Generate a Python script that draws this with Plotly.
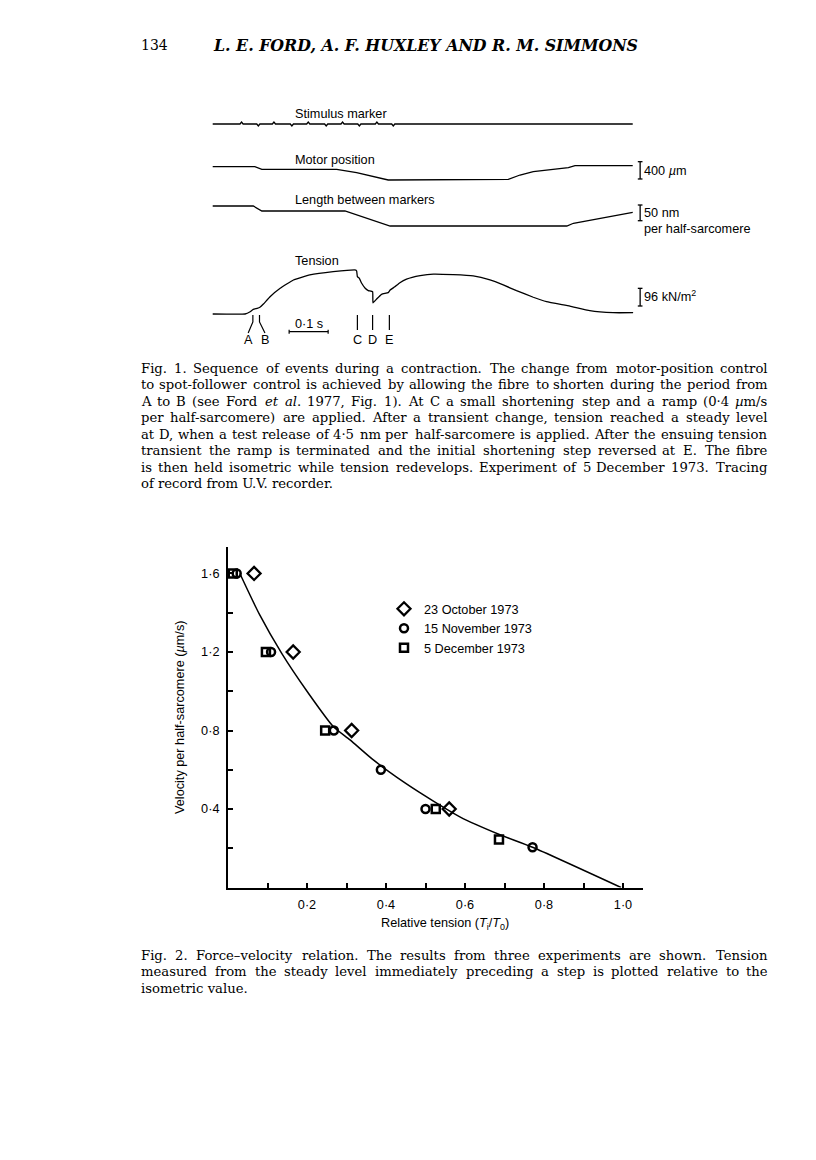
import re
import plotly.graph_objects as go

W, H = 816, 1160

# ---------------- Fig. 2 data (force-velocity) ----------------
oct_x = [0.066, 0.165, 0.313, 0.56]
oct_y = [1.6, 1.2, 0.8, 0.4]
nov_x = [0.022, 0.109, 0.268, 0.387, 0.50, 0.771]
nov_y = [1.6, 1.2, 0.8, 0.6, 0.4, 0.205]
dec_x = [0.012, 0.096, 0.246, 0.526, 0.686]
dec_y = [1.6, 1.2, 0.8, 0.4, 0.245]
fit_x = [0.03, 0.08, 0.136, 0.2, 0.267, 0.309, 0.368, 0.45, 0.52, 0.587, 0.687, 0.771, 0.995]
fit_y = [1.6, 1.39, 1.193, 1.0, 0.819, 0.752, 0.65, 0.53, 0.44, 0.36, 0.27, 0.205, 0.0]
legend_names = ["23 October 1973", "15 November 1973", "5 December 1973"]
xtick_vals = [0.2, 0.4, 0.6, 0.8, 1.0]
xtick_text = ["0·2", "0·4", "0·6", "0·8", "1·0"]
xminor_vals = [0.1, 0.3, 0.5, 0.7, 0.9]
ytick_vals = [0.4, 0.8, 1.2, 1.6]
ytick_text = ["0·4", "0·8", "1·2", "1·6"]
yminor_vals = [0.2, 0.6, 1.0, 1.4]

# ---------------- Fig. 1 data (traced records; time in s) ----------------
stim_t = [0.074, 0.117, 0.157, 0.203, 0.245, 0.291, 0.333, 0.376, 0.421, 0.463]
stim_amp = [2, -2, 2, -2, 2, -2, 2, -2, 2, -2]
stim_end = 1.077

motor_t = [0.0, 0.108, 0.126, 0.318, 0.369, 0.450, 0.758, 0.788, 0.822, 0.912, 0.929, 1.077]
motor_um = [0, 0, -60, -60, -139, -307, -291, -192, -116, -23, 23, 23]

length_t = [0.0, 0.104, 0.126, 0.339, 0.455, 0.908, 0.925, 0.993, 1.077]
length_nm = [0, 0, -15.9, -15.9, -63.7, -63.7, -55, -39, -20]

tension_t = [0.0, 0.083, 0.096, 0.104, 0.114, 0.121, 0.130, 0.147, 0.173, 0.207, 0.249,
             0.309, 0.367, 0.369, 0.371, 0.376, 0.382, 0.391, 0.399, 0.410, 0.411, 0.421,
             0.433, 0.450, 0.455, 0.467, 0.480, 0.497, 0.532, 0.566, 0.617, 0.668, 0.711,
             0.745, 0.779, 0.822, 0.856, 0.916, 0.967, 1.027, 1.078]
tension_kn = [0, 0, 12.5, 25.5, 31, 36.4, 54.3, 94, 139.7, 184.8, 212,
              229.9, 239, 235, 203, 194, 167, 140, 127, 121, 61, 83,
              107, 116, 130, 148, 170, 189, 208, 217, 214, 207, 185,
              158, 127, 91, 67, 43, 18, 7, 7]

event_labels = ["A", "B", "C", "D", "E"]
event_t = [0.091, 0.134, 0.371, 0.410, 0.453]
scale_t = 1.096
motor_bar = [-284, 116]       # 400 um
length_bar = [-46.8, 3.2]     # 50 nm per half-sarcomere
tension_bar = [43.5, 139.5]   # 96 kN/m2
time_bar = [0.196, 0.296]     # 0.1 s

BLACK = "#000000"
SANS = "Liberation Sans, Arial, sans-serif"
SERIF = "DejaVu Serif, serif"
FS = 12.7


def px(x):
    return x / W


def py(y):
    return 1 - y / H


def yaxis_cfg(ptop, pbot, pref, k):
    """pixel domain [ptop, pbot]; value 0 sits at pixel pref; k pixels per unit"""
    return dict(domain=[py(pbot), py(ptop)], range=[(pref - pbot) / k, (pref - ptop) / k],
                visible=False, anchor="x2", fixedrange=True)


fig = go.Figure()

# ---------- Fig. 2 ----------
fig.add_trace(go.Scatter(x=fit_x, y=fit_y, mode="lines", line=dict(color=BLACK, width=1.5, shape="spline", smoothing=0.6),
                         showlegend=False, hoverinfo="skip"))
fig.add_trace(go.Scatter(x=oct_x, y=oct_y, mode="markers", name=legend_names[0],
                         marker=dict(symbol="diamond-open", size=10, color=BLACK, line=dict(width=2.3, color=BLACK))))
fig.add_trace(go.Scatter(x=nov_x, y=nov_y, mode="markers", name=legend_names[1],
                         marker=dict(symbol="circle-open", size=8, color=BLACK, line=dict(width=2.5, color=BLACK))))
fig.add_trace(go.Scatter(x=dec_x, y=dec_y, mode="markers", name=legend_names[2],
                         marker=dict(symbol="square-open", size=8, color=BLACK, line=dict(width=2.5, color=BLACK))))

# ---------- Fig. 1 traces ----------
st_x, st_y = [0.0], [0]
for t, a in zip(stim_t, stim_amp):
    st_x += [t - 0.004, t, t + 0.004]
    st_y += [0, a, 0]
st_x.append(stim_end)
st_y.append(0)
lw = 1.3
fig.add_trace(go.Scatter(x=st_x, y=st_y, xaxis="x2", yaxis="y2", mode="lines",
                         line=dict(color=BLACK, width=lw), showlegend=False, hoverinfo="skip"))
fig.add_trace(go.Scatter(x=motor_t, y=motor_um, xaxis="x2", yaxis="y3", mode="lines",
                         line=dict(color=BLACK, width=lw), showlegend=False, hoverinfo="skip"))
fig.add_trace(go.Scatter(x=length_t, y=length_nm, xaxis="x2", yaxis="y4", mode="lines",
                         line=dict(color=BLACK, width=lw), showlegend=False, hoverinfo="skip"))
fig.add_trace(go.Scatter(x=tension_t, y=tension_kn, xaxis="x2", yaxis="y5", mode="lines",
                         line=dict(color=BLACK, width=lw, shape="spline", smoothing=0.3),
                         showlegend=False, hoverinfo="skip"))

# vertical calibration bars
cap = 0.006
for ax, (lo, hi) in (("y3", motor_bar), ("y4", length_bar), ("y5", tension_bar)):
    fig.add_trace(go.Scatter(x=[scale_t - cap, scale_t + cap, None, scale_t, scale_t, None, scale_t - cap, scale_t + cap],
                             y=[lo, lo, None, lo, hi, None, hi, hi], xaxis="x2", yaxis=ax, mode="lines",
                             line=dict(color=BLACK, width=1.3), showlegend=False, hoverinfo="skip"))

# time bar (0.1 s) in the tension axis
tb_y = -96
fig.add_trace(go.Scatter(x=[time_bar[0], time_bar[0], None, time_bar[0], time_bar[1], None, time_bar[1], time_bar[1]],
                         y=[tb_y - 11, tb_y + 11, None, tb_y, tb_y, None, tb_y - 11, tb_y + 11],
                         xaxis="x2", yaxis="y5", mode="lines", line=dict(color=BLACK, width=1.2),
                         showlegend=False, hoverinfo="skip"))

# event markers A..E
ev_x, ev_y = [], []
ev_x += [0.103, 0.103, event_t[0], None, 0.120, 0.120, event_t[1], None]
ev_y += [-5, -43, -103, None, -5, -43, -103, None]
for t in event_t[2:]:
    ev_x += [t, t, None]
    ev_y += [-5, -87, None]
fig.add_trace(go.Scatter(x=ev_x, y=ev_y, xaxis="x2", yaxis="y5", mode="lines",
                         line=dict(color=BLACK, width=1.2), showlegend=False, hoverinfo="skip"))

ann = []
for lab, t in zip(event_labels, event_t):
    ann.append(dict(x=t, y=-141, xref="x2", yref="y5", text=lab, showarrow=False,
                    font=dict(family=SANS, size=FS, color=BLACK), xanchor="center", yanchor="middle"))
ann.append(dict(x=sum(time_bar) / 2, y=-54, xref="x2", yref="y5", text="0·1 s", showarrow=False,
                font=dict(family=SANS, size=FS, color=BLACK), xanchor="center", yanchor="middle"))


def txt(x, y, s, size=FS, family=SANS, anchor="left", **kw):
    ann.append(dict(x=px(x), y=py(y), xref="paper", yref="paper", text=s, showarrow=False,
                    borderpad=0, borderwidth=0,
                    font=dict(family=family, size=size, color=BLACK), xanchor=anchor, yanchor="middle", **kw))


# trace labels
txt(295, 114, "Stimulus marker")
txt(295, 160, "Motor position")
txt(295, 200, "Length between markers")
txt(295, 261, "Tension")
txt(644, 171, "400 <i>µ</i>m")
txt(644, 213, "50 nm")
txt(644, 229, "per half-sarcomere")
txt(644, 296, "96 kN/m<sup>2</sup>")

# page header
txt(141, 45, "134", size=14, family=SERIF)
txt(213, 45, "<b><i>L. E. FORD, A. F. HUXLEY AND R. M. SIMMONS</i></b>", size=15.8, family=SERIF)

# approximate DejaVu Serif advance widths (em) for justification
CW = dict(a=.596, b=.640, c=.560, d=.640, e=.592, f=.370, g=.640, h=.644, i=.320, j=.310, k=.600,
          l=.320, m=.948, n=.644, o=.602, p=.640, q=.640, r=.478, s=.513, t=.402, u=.644, v=.565,
          w=.856, x=.564, y=.565, z=.527)
CW.update({c: .74 for c in "ABCDEFGHKNOPQRSTUVXYZ"})
CW.update({"I": .40, "J": .40, "L": .66, "M": 1.0, "W": 1.0})
CW.update({d: .636 for d in "0123456789"})
CW.update({" ": .318, ".": .318, ",": .318, "(": .39, ")": .39, "-": .338, "–": .5, "/": .337,
           "·": .318, "µ": .65})


def raw_width(s):
    return sum(CW.get(ch, .6) for ch in re.sub(r"<[^>]+>", "", s))


# calibration: a reference line measured ~575 px wide at 12.3 px in this renderer
CAL = 575.0 / (raw_width("to spot-follower control is achieved by allowing the fibre to shorten "
                         "during the period from") * 12.3)


def est_width(word, size):
    return raw_width(word) * size * CAL


def justified(lines, y0, dy, size, left=141, right=768):
    for i, line in enumerate(lines):
        y = y0 + dy * i
        words = line.split(" ")
        if i == len(lines) - 1 or len(words) < 2:
            txt(left, y, line, size=size, family=SERIF)
            continue
        widths = [est_width(w_, size) for w_ in words]
        n = len(words)
        gap = (right - left - sum(widths)) / (n - 1)
        half = n // 2
        x = left
        for j in range(half):
            txt(x, y, words[j], size=size, family=SERIF)
            x += widths[j] + gap
        xr = right
        for j in range(n - 1, half - 1, -1):
            txt(xr, y, words[j], size=size, family=SERIF, anchor="right")
            xr -= widths[j] + gap


cap1 = [
    "Fig. 1. Sequence of events during a contraction. The change from motor-position control",
    "to spot-follower control is achieved by allowing the fibre to shorten during the period from",
    "A to B (see Ford <i>et</i> <i>al</i>. 1977, Fig. 1). At C a small shortening step and a ramp (0·4 <i>µ</i>m/s",
    "per half-sarcomere) are applied. After a transient change, tension reached a steady level",
    "at D, when a test release of 4·5 nm per half-sarcomere is applied. After the ensuing tension",
    "transient the ramp is terminated and the initial shortening step reversed at E. The fibre",
    "is then held isometric while tension redevelops. Experiment of 5 December 1973. Tracing",
    "of record from U.V. recorder.",
]
cap2 = [
    "Fig. 2. Force–velocity relation. The results from three experiments are shown. Tension",
    "measured from the steady level immediately preceding a step is plotted relative to the",
    "isometric value.",
]
justified(cap1, 368.3, 16.5, 13.2)
justified(cap2, 955, 16.7, 13.2)

# Fig. 2 axis titles
txt(445, 924, "Relative tension (<i>T</i><sub>i</sub>/<i>T</i><sub>0</sub>)", anchor="center")
ann.append(dict(x=px(180), y=py(718), xref="paper", yref="paper", text="Velocity per half-sarcomere (<i>µ</i>m/s)",
                showarrow=False, textangle=-90, font=dict(family=SANS, size=FS, color=BLACK),
                xanchor="center", yanchor="middle"))

tick_common = dict(showgrid=False, zeroline=False, showline=True, linecolor=BLACK, linewidth=2,
                   ticks="inside", ticklen=5, tickwidth=1.5, tickcolor=BLACK, ticklabelstandoff=4,
                   tickfont=dict(family=SANS, size=FS, color=BLACK), fixedrange=True)

fig.update_layout(
    width=W, height=H, margin=dict(l=0, r=0, t=0, b=0, pad=0),
    paper_bgcolor="white", plot_bgcolor="rgba(0,0,0,0)",
    showlegend=True,
    legend=dict(x=px(384), y=py(594), xanchor="left", yanchor="top", bgcolor="rgba(0,0,0,0)",
                font=dict(family=SANS, size=FS, color=BLACK), itemwidth=30, tracegroupgap=0),
    xaxis=dict(domain=[px(228), px(642.75)], range=[0, 1.05], tickvals=xtick_vals, ticktext=xtick_text,
               minor=dict(tickvals=xminor_vals, ticks="inside", ticklen=5, tickwidth=1.5, tickcolor=BLACK),
               anchor="y", **tick_common),
    yaxis=dict(domain=[py(887.5), py(547)], range=[0, 1.735], tickvals=ytick_vals, ticktext=ytick_text,
               minor=dict(tickvals=yminor_vals, ticks="inside", ticklen=5, tickwidth=1.5, tickcolor=BLACK),
               anchor="x", **tick_common),
    xaxis2=dict(domain=[px(200), px(660)], range=[(200 - 212.7) / 390, (660 - 212.7) / 390],
                visible=False, anchor="y2", fixedrange=True),
    yaxis2=yaxis_cfg(105, 140, 124, 1.0),
    yaxis3=yaxis_cfg(150, 190, 166.7, 0.04325),
    yaxis4=yaxis_cfg(195, 240, 206, 0.314),
    yaxis5=yaxis_cfg(250, 350, 314, 0.184),
    annotations=ann,
)

fig.write_html("out.html", config={"displayModeBar": False, "responsive": False},
               post_script="document.body.style.margin='0';")
